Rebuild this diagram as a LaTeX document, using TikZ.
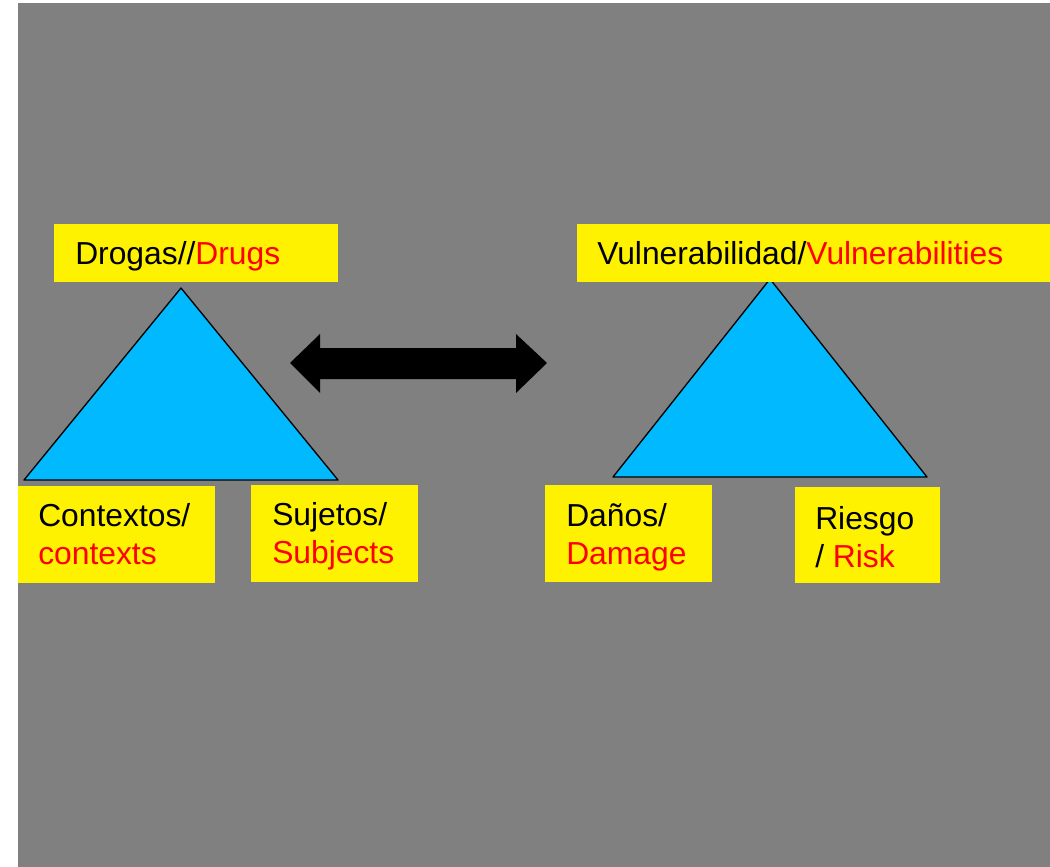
\documentclass[tikz,border=0pt]{standalone}
\usepackage{fontspec}
\setmainfont{Liberation Sans}
\usepackage{xcolor}
\definecolor{slidegray}{RGB}{128,128,128}
\definecolor{tricyan}{RGB}{0,185,255}

\begin{document}
\begin{tikzpicture}[x=0.75pt,y=-0.75pt]
	\tikzstyle{every node}+=[inner sep=0pt]
	\tikzstyle{txt}=[anchor=base west, align=left, font=\fontsize{23.85}{28.5}\selectfont]
	\tikzstyle{tri}=[draw=black, fill=tricyan, line width=1pt, line join=round]
	\useasboundingbox (0,0) rectangle (1050,867);
	\fill [slidegray] (18,3) rectangle (1050,867);
	% triangles
	\draw [tri] (181,288) -- (24,480) -- (338,480) -- cycle;
	\draw [tri] (770,279) -- (613,477) -- (927,477) -- cycle;
	% double arrow
	\fill [black] (290,363) -- (320,334) -- (320,348) -- (516,348) -- (516,334)
		-- (547,363) -- (516,393) -- (516,379) -- (320,379) -- (320,393) -- cycle;
	% labels (base = last line)
	\fill [yellow] (54,224) rectangle (338,282);
	\node [txt] (drogas) at (75,264) {Drogas//\textcolor{red}{Drugs}};
	\fill [yellow] (18,486) rectangle (215,583);
	\node [txt] (contextos) at (38,564) {Contextos/\\\textcolor{red}{contexts}};
	\fill [yellow] (251,485) rectangle (418,582);
	\node [txt] (sujetos) at (272,563) {Sujetos/\\\textcolor{red}{Subjects}};
	\fill [yellow] (577,224) rectangle (1050,282);
	\node [txt] (vulner) at (597,264) {Vulnerabilidad/\textcolor{red}{Vulnerabilities}};
	\fill [yellow] (545,485) rectangle (712,582);
	\node [txt] (danos) at (566,564) {Daños/\\\textcolor{red}{Damage}};
	\fill [yellow] (795,487) rectangle (940,583);
	\node [txt] (riesgo) at (815,567) {Riesgo\\/ \textcolor{red}{Risk}};
\end{tikzpicture}
\end{document}
